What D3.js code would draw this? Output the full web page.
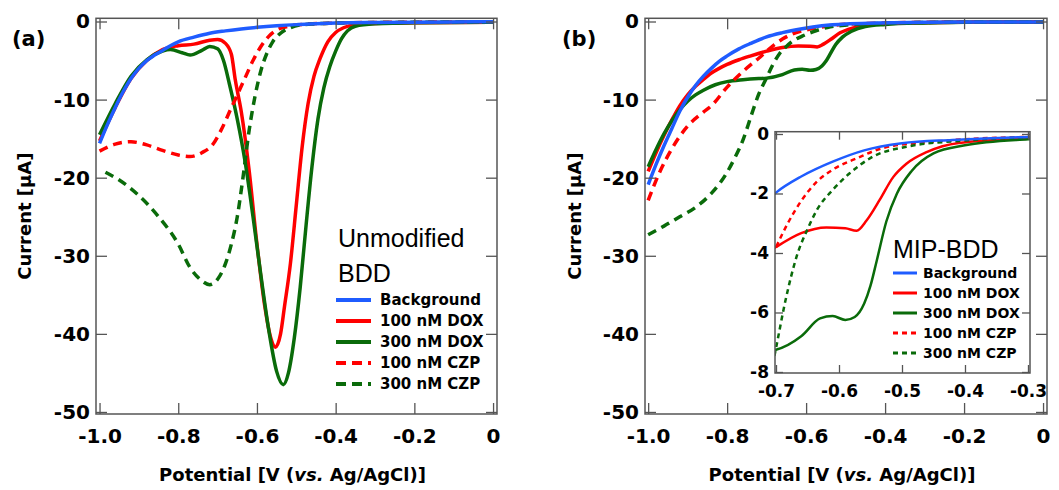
<!DOCTYPE html>
<html>
<head>
<meta charset="utf-8">
<script src="https://cdn.jsdelivr.net/npm/d3@7"></script>
<style>
  body { margin: 0; background: #fff; }
  svg { display: block; }
</style>
</head>
<body>
<div id="chart"></div>
<script>
// legend entries for both panels
const seriesNames = ["Background", "100 nM DOX", "300 nM DOX", "100 nM CZP", "300 nM CZP"]

// tick values
const xTicksMain = [-1.0, -0.8, -0.6, -0.4, -0.2, 0]
const yTicksMain = [0, -10, -20, -30, -40, -50]
const xTicksInset = [-0.7, -0.6, -0.5, -0.4, -0.3]
const yTicksInset = [0, -2, -4, -6, -8]

// panel (a) : unmodified BDD, [potential V, current uA]
const bgA = [[-1.00,-15.6],[-0.98,-13.2],[-0.96,-11.0],[-0.94,-9.0],[-0.92,-7.3],[-0.90,-6.0],[-0.88,-5.0],
  [-0.86,-4.3],[-0.84,-3.7],[-0.82,-3.1],[-0.80,-2.6],[-0.76,-2.0],[-0.72,-1.5],[-0.68,-1.2],[-0.64,-0.95],
  [-0.60,-0.75],[-0.55,-0.55],[-0.50,-0.4],[-0.45,-0.3],[-0.40,-0.2],[-0.30,-0.12],[-0.20,-0.08],[-0.10,-0.05],[0,-0.03]]
const doxLowA = [[-1.00,-15.3],[-0.96,-11.0],[-0.92,-7.3],[-0.88,-5.0],[-0.84,-3.6],[-0.80,-3.1],[-0.76,-2.9],
  [-0.72,-2.4],[-0.70,-2.3],[-0.68,-2.8],[-0.665,-4.2],[-0.655,-7.5],[-0.64,-11.5],[-0.62,-19.0],[-0.60,-28.5],
  [-0.58,-36.5],[-0.565,-40.5],[-0.553,-41.7],[-0.54,-40.0],[-0.53,-36.5],[-0.515,-31.0],[-0.50,-23.5],
  [-0.485,-16.0],[-0.47,-10.5],[-0.455,-7.0],[-0.44,-4.8],[-0.42,-2.6],[-0.40,-1.4],[-0.38,-0.8],[-0.35,-0.4],
  [-0.30,-0.25],[-0.20,-0.15],[0,-0.1]]
const doxHighA = [[-1.00,-14.5],[-0.96,-10.5],[-0.92,-7.0],[-0.88,-4.9],[-0.84,-3.8],[-0.82,-3.6],[-0.79,-4.0],
  [-0.77,-4.3],[-0.74,-3.7],[-0.72,-3.2],[-0.70,-3.5],[-0.685,-5.0],[-0.67,-8.0],[-0.65,-12.5],[-0.63,-18.0],
  [-0.61,-25.0],[-0.59,-32.5],[-0.57,-39.5],[-0.55,-44.8],[-0.533,-46.5],[-0.52,-45.0],[-0.505,-40.5],
  [-0.49,-34.0],[-0.475,-26.0],[-0.46,-18.5],[-0.445,-12.5],[-0.43,-8.5],[-0.415,-5.8],[-0.40,-3.8],
  [-0.385,-2.2],[-0.37,-1.2],[-0.35,-0.6],[-0.30,-0.3],[-0.20,-0.15],[0,-0.1]]
const czpLowA = [[-1.00,-16.6],[-0.96,-15.7],[-0.92,-15.4],[-0.88,-15.8],[-0.84,-16.5],[-0.80,-17.1],[-0.77,-17.3],
  [-0.74,-16.8],[-0.71,-15.6],[-0.69,-13.8],[-0.67,-11.6],[-0.65,-9.4],[-0.63,-7.2],[-0.61,-5.0],[-0.59,-3.2],
  [-0.57,-1.9],[-0.55,-1.1],[-0.52,-0.6],[-0.48,-0.35],[-0.40,-0.2],[-0.30,-0.12],[0,-0.05]]
const czpHighA = [[-0.985,-19.3],[-0.95,-20.3],[-0.90,-22.3],[-0.85,-25.0],[-0.80,-28.5],[-0.77,-31.5],[-0.74,-33.2],
  [-0.72,-33.7],[-0.70,-33.0],[-0.68,-31.0],[-0.665,-28.5],[-0.65,-25.0],[-0.635,-19.8],[-0.62,-14.0],
  [-0.605,-9.6],[-0.59,-6.3],[-0.575,-4.1],[-0.56,-2.6],[-0.54,-1.5],[-0.52,-0.9],[-0.49,-0.45],[-0.45,-0.3],
  [-0.40,-0.2],[0,-0.05]]

// panel (b) : MIP-BDD (the inset shows the same curves)
const bgB = [[-1.00,-20.9],[-0.98,-18.3],[-0.96,-15.9],[-0.94,-13.7],[-0.92,-11.5],[-0.90,-9.7],[-0.88,-8.2],
  [-0.86,-7.0],[-0.84,-6.0],[-0.82,-5.1],[-0.80,-4.4],[-0.77,-3.5],[-0.74,-2.8],[-0.70,-1.97],[-0.66,-1.43],
  [-0.61,-0.93],[-0.56,-0.55],[-0.50,-0.31],[-0.42,-0.2],[-0.30,-0.1],[-0.20,-0.07],[0,-0.05]]
const doxLowB = [[-1.00,-19.2],[-0.98,-16.8],[-0.96,-14.6],[-0.94,-12.6],[-0.92,-10.8],[-0.90,-9.4],[-0.88,-8.3],
  [-0.86,-7.4],[-0.84,-6.6],[-0.82,-6.0],[-0.80,-5.5],[-0.77,-4.9],[-0.74,-4.4],[-0.70,-3.8],[-0.66,-3.33],
  [-0.62,-3.14],[-0.59,-3.17],[-0.572,-3.25],[-0.556,-2.9],[-0.535,-2.2],[-0.514,-1.45],[-0.493,-1.0],
  [-0.46,-0.6],[-0.41,-0.3],[-0.30,-0.15],[-0.20,-0.1],[0,-0.05]]
const doxHighB = [[-1.00,-18.6],[-0.98,-16.4],[-0.96,-14.4],[-0.94,-12.7],[-0.92,-11.3],[-0.90,-10.2],[-0.88,-9.4],
  [-0.86,-8.8],[-0.83,-8.1],[-0.80,-7.7],[-0.76,-7.45],[-0.72,-7.3],[-0.70,-7.25],[-0.66,-6.8],[-0.63,-6.2],
  [-0.61,-6.12],[-0.59,-6.25],[-0.575,-6.15],[-0.56,-5.7],[-0.55,-5.1],[-0.54,-4.25],[-0.525,-2.95],
  [-0.508,-2.0],[-0.485,-1.25],[-0.45,-0.65],[-0.40,-0.38],[-0.30,-0.18],[-0.20,-0.1],[0,-0.05]]
const czpLowB = [[-1.00,-22.9],[-0.97,-19.2],[-0.94,-16.3],[-0.90,-13.4],[-0.86,-11.6],[-0.84,-10.8],[-0.80,-8.4],
  [-0.76,-6.4],[-0.72,-4.7],[-0.70,-3.8],[-0.68,-2.95],[-0.66,-2.25],[-0.635,-1.6],[-0.61,-1.2],[-0.57,-0.8],
  [-0.53,-0.47],[-0.45,-0.26],[-0.30,-0.1],[0,-0.04]]
const czpHighB = [[-1.00,-27.3],[-0.96,-26.2],[-0.92,-25.0],[-0.88,-23.8],[-0.84,-22.0],[-0.80,-19.3],[-0.78,-17.4],
  [-0.76,-15.2],[-0.74,-12.2],[-0.72,-9.3],[-0.70,-7.2],[-0.685,-5.6],[-0.667,-4.1],[-0.65,-3.2],[-0.635,-2.55],
  [-0.61,-1.88],[-0.583,-1.32],[-0.546,-0.76],[-0.493,-0.43],[-0.40,-0.22],[-0.30,-0.12],[0,-0.05]]

const panelA = [bgA, doxLowA, doxHighA, czpLowA, czpHighA]
const panelB = [bgB, doxLowB, doxHighB, czpLowB, czpHighB]

// styles
const colors = ["#1f5cff", "#ff0000", "#0a6b0a", "#ff0000", "#0a6b0a"]
const dashed = [false, false, false, true, true]
const drawOrder = [1, 2, 3, 4, 0]   // blue on top
const tickFont = "'DejaVu Sans', sans-serif"
const frameColor = "#555"

const svg = d3.select("#chart").append("svg")
    .attr("width", 1059)
    .attr("height", 490)
    .style("font-family", tickFont)

svg.append("rect").attr("width", 1059).attr("height", 490).attr("fill", "#fff")

const fmtX = d => d === 0 ? "0" : d.toFixed(1)
const fmtY = d => String(d)

// draw a boxed frame with inward ticks on all four sides
function drawFrame(g, x, y, xt, yt, opt) {
    const [x0, x1] = x.range()
    const [y0, y1] = y.range()   // y0 bottom, y1 top

    const styleAxis = sel => {
        sel.select(".domain").remove()
        sel.selectAll("line").attr("stroke", frameColor).attr("stroke-width", 1.3)
        sel.selectAll("text")
            .attr("fill", "#000")
            .style("font-size", opt.font + "px")
            .style("font-weight", "bold")
            .style("font-family", tickFont)
    }

    g.append("g").attr("transform", `translate(0,${y0})`)
        .call(d3.axisBottom(x).tickValues(xt).tickSize(-opt.tick).tickSizeOuter(0)
            .tickPadding(opt.padX).tickFormat(fmtX))
        .call(styleAxis)
    g.append("g").attr("transform", `translate(0,${y1})`)
        .call(d3.axisTop(x).tickValues(xt).tickSize(-opt.tick).tickSizeOuter(0).tickFormat(""))
        .call(styleAxis)
    g.append("g").attr("transform", `translate(${x0},0)`)
        .call(d3.axisLeft(y).tickValues(yt).tickSize(-opt.tick).tickSizeOuter(0)
            .tickPadding(opt.padY).tickFormat(fmtY))
        .call(styleAxis)
    g.append("g").attr("transform", `translate(${x1},0)`)
        .call(d3.axisRight(y).tickValues(yt).tickSize(-opt.tick).tickSizeOuter(0).tickFormat(""))
        .call(styleAxis)

    g.append("rect")
        .attr("x", x0).attr("y", y1)
        .attr("width", x1 - x0).attr("height", y0 - y1)
        .attr("fill", "none")
        .attr("stroke", frameColor)
        .attr("stroke-width", 1.5)
}

function drawCurves(g, x, y, data, id, width, dash) {
    const [x0, x1] = x.range()
    const [y0, y1] = y.range()
    svg.append("clipPath").attr("id", id)
        .append("rect").attr("x", x0).attr("y", y1).attr("width", x1 - x0).attr("height", y0 - y1)

    const line = d3.line()
        .curve(d3.curveMonotoneX)
        .x(d => x(d[0]))
        .y(d => y(d[1]))

    const cg = g.append("g").attr("clip-path", `url(#${id})`)
    for (const i of drawOrder) {
        cg.append("path")
            .datum(data[i])
            .attr("fill", "none")
            .attr("stroke", colors[i])
            .attr("stroke-width", width)
            .attr("stroke-dasharray", dashed[i] ? dash : null)
            .attr("stroke-linejoin", "round")
            .attr("d", line)
    }
}

function drawLegend(g, title, tx, ty, lx, rowY, opt) {
    title.forEach((t, k) => {
        g.append("text")
            .attr("x", tx).attr("y", ty + k * opt.titleGap)
            .style("font-family", "'Liberation Sans', Arial, sans-serif")
            .style("font-size", opt.titleFont + "px")
            .text(t)
    })
    seriesNames.forEach((name, i) => {
        const cy = rowY + i * opt.rowGap
        g.append("line")
            .attr("x1", lx).attr("x2", lx + opt.len)
            .attr("y1", cy).attr("y2", cy)
            .attr("stroke", colors[i])
            .attr("stroke-width", opt.width)
            .attr("stroke-dasharray", dashed[i] ? opt.dash : null)
        g.append("text")
            .attr("x", lx + opt.len + opt.gap).attr("y", cy)
            .attr("dominant-baseline", "central")
            .style("font-size", opt.font + "px")
            .style("font-weight", "bold")
            .text(name)
    })
}

function axisTitles(g, x, y, label, lx, yLabelX) {
    const [x0, x1] = x.range()
    const [y0, y1] = y.range()
    g.append("text")
        .attr("x", lx).attr("y", 46)
        .style("font-size", "21px").style("font-weight", "bold")
        .text(label)
    g.append("text")
        .attr("x", (x0 + x1) / 2 - 4).attr("y", 481)
        .attr("text-anchor", "middle")
        .style("font-size", "18px").style("font-weight", "bold")
        .html("Potential [V (<tspan font-style='italic'>vs.</tspan> Ag/AgCl)]")
    g.append("text")
        .attr("transform", `translate(${yLabelX},${(y0 + y1) / 2}) rotate(-90)`)
        .attr("text-anchor", "middle")
        .style("font-size", "18px").style("font-weight", "bold")
        .text("Current [\u03bcA]")
}

const mainOpt = { tick: 11, padX: 15, padY: 6, font: 20 }

// ---- panel (a)
const gA = svg.append("g")
const xA = d3.scaleLinear().domain([-1.009, 0.01]).range([96, 497])
const yA = d3.scaleLinear().domain([-50.26, 0.41]).range([414, 18.3])
drawCurves(gA, xA, yA, panelA, "clipA", 3.5, "9,6")
drawFrame(gA, xA, yA, xTicksMain, yTicksMain, mainOpt)
axisTitles(gA, xA, yA, "(a)", 12, 31)
drawLegend(gA, ["Unmodified", "BDD"], 338, 247, 336, 300,
    { titleGap: 35, titleFont: 25, rowGap: 21, len: 35, gap: 9, width: 4, dash: "10,6", font: 15 })

// ---- panel (b)
const gB = svg.append("g")
const xB = d3.scaleLinear().domain([-1.008, 0.01]).range([645, 1047])
const yB = d3.scaleLinear().domain([-50.26, 0.41]).range([414, 18.3])
drawCurves(gB, xB, yB, panelB, "clipB", 3.5, "9,6")
drawFrame(gB, xB, yB, xTicksMain, yTicksMain, mainOpt)
axisTitles(gB, xB, yB, "(b)", 562, 581)

// ---- inset
const gI = svg.append("g")
const xI = d3.scaleLinear().domain([-0.7016, -0.2968]).range([775, 1030])
const yI = d3.scaleLinear().domain([-8.034, 0.077]).range([373, 131.7])
gI.append("rect").attr("x", 775).attr("y", 131.7).attr("width", 255).attr("height", 241.3).attr("fill", "#fff")
drawCurves(gI, xI, yI, panelB, "clipI", 2.5, "5,4")
drawFrame(gI, xI, yI, xTicksInset, yTicksInset, { tick: 8, padX: 12, padY: 6, font: 17 })
drawLegend(gI, ["MIP-BDD"], 893, 258, 893, 273,
    { titleGap: 0, titleFont: 25, rowGap: 20, len: 24, gap: 6, width: 3, dash: "5,4", font: 14 })
</script>
</body>
</html>
